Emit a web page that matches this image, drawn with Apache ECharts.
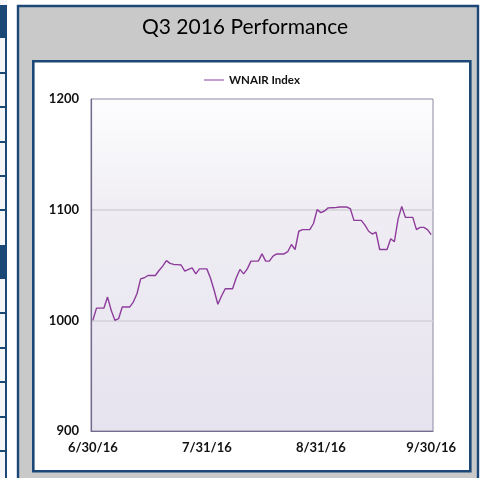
<!DOCTYPE html>
<html>
<head>
<meta charset="utf-8">
<script src="https://cdn.jsdelivr.net/npm/echarts@6/dist/echarts.min.js"></script>
<style>
    html, body { margin: 0; padding: 0; background: #fff; }
    #main { width: 482px; height: 478px; }
</style>
</head>
<body>
<div id="main"></div>
<script>
// daily index values, 6/30/16 .. 9/30/16 (weekends carry the last close)
var startDate = new Date(2016, 5, 30);
var values = [
    1000, 1011, 1011, 1011, 1021, 1009, 1000, 1001.5, 1012, 1012,
    1012, 1016.5, 1024, 1037.5, 1038.5, 1040.5, 1040.5, 1040.5, 1045, 1049,
    1054, 1051.5, 1050.5, 1050.3, 1050, 1044.5, 1046, 1047.5, 1042, 1046.5,
    1046.5, 1046.5, 1038, 1027, 1014.5, 1022, 1028.5, 1028.5, 1028.5, 1038.5,
    1046, 1042, 1046.5, 1053.5, 1053.5, 1053.5, 1060, 1053.5, 1053.5, 1058,
    1060, 1060, 1060, 1062, 1068.5, 1064, 1080.5, 1082, 1082, 1082,
    1087.5, 1100, 1097.3, 1098.8, 1101.6, 1101.7, 1101.8, 1102.4, 1102.5, 1102.4,
    1101, 1090.3, 1090.3, 1090.3, 1086, 1080.5, 1078, 1079.7, 1064, 1064,
    1064, 1073.8, 1071, 1091.5, 1103, 1093, 1093, 1093, 1082, 1084,
    1084, 1082, 1077.5
];
var tickLabels = ['6/30/16', '7/31/16', '8/31/16', '9/30/16'];
var yTicks = [900, 1000, 1100, 1200];

var navy = '#1c4877';

var days = [];
for (var i = 0; i < values.length; i++) {
    var d = new Date(startDate.getTime());
    d.setDate(startDate.getDate() + i);
    days.push((d.getMonth() + 1) + '/' + d.getDate() + '/' + String(d.getFullYear()).slice(2));
}

var myChart = echarts.init(document.getElementById('main'), null, { renderer: 'canvas' });

// decorative frame pieces around the chart
var deco = [
    { type: 'rect', shape: { x: 0, y: 0, width: 7, height: 478 }, style: { fill: '#f4f5f8' } },
    { type: 'rect', shape: { x: 0, y: 5, width: 7, height: 33 }, style: { fill: navy } },
    { type: 'rect', shape: { x: 0, y: 245, width: 7, height: 34 }, style: { fill: navy } },
    { type: 'line', shape: { x1: 6, y1: 5, x2: 6, y2: 478 }, style: { stroke: navy, lineWidth: 2 } }
];
[73, 107, 142, 176, 210, 313, 348, 382, 417, 451].forEach(function(y) {
    deco.push({ type: 'line', shape: { x1: 0, y1: y, x2: 7, y2: y }, style: { stroke: navy, lineWidth: 2 } });
});
deco.push({ type: 'rect', shape: { x: 18, y: 6, width: 460, height: 490 }, style: { fill: '#c9c9c9', stroke: navy, lineWidth: 2.4 } });
deco.push({ type: 'rect', shape: { x: 33.3, y: 61.3, width: 437, height: 410 }, style: { fill: '#fff', stroke: navy, lineWidth: 2.6 } });
deco.forEach(function(g) { g.z = -10; g.silent = true; });

var option = {
    animation: false,
    title: {
        text: 'Q3 2016 Performance',
        left: 245,
        top: 17,
        padding: 0,
        textAlign: 'center',
        textStyle: {
            color: '#000',
            fontFamily: 'Lato',
            fontWeight: 'normal',
            fontSize: 21
        }
    },
    legend: {
        left: 204,
        top: 74,
        padding: 0,
        icon: 'rect',
        itemWidth: 20,
        itemHeight: 1.5,
        itemStyle: { color: '#b07cc4' },
        textStyle: {
            color: '#111',
            fontFamily: 'Lato',
            fontWeight: 'bold',
            fontSize: 11.5
        },
        data: ['WNAIR Index']
    },
    graphic: deco,
    grid: {
        left: 91,
        top: 99,
        width: 342,
        height: 332,
        show: true,
        borderColor: '#8f88a4',
        borderWidth: 1,
        backgroundColor: {
            type: 'linear', x: 0, y: 0, x2: 0, y2: 1,
            colorStops: [
                { offset: 0, color: '#fdfdfe' },
                { offset: 0.35, color: '#efedf3' },
                { offset: 1, color: '#e6e3ef' }
            ]
        }
    },
    xAxis: {
        type: 'category',
        data: days,
        boundaryGap: true,
        axisLine: { show: true, lineStyle: { color: '#766c8e', width: 1.2 } },
        axisTick: { show: false },
        splitLine: { show: false },
        axisLabel: {
            interval: function(index, value) {
                return tickLabels.indexOf(value) >= 0;
            },
            margin: 10,
            color: '#111',
            fontFamily: 'Lato',
            fontWeight: 'bold',
            fontSize: 13,
            hideOverlap: false
        }
    },
    yAxis: {
        type: 'value',
        min: yTicks[0],
        max: yTicks[yTicks.length - 1],
        interval: 100,
        axisLine: { show: true, lineStyle: { color: '#766c8e', width: 1.2 } },
        axisTick: { show: false },
        splitLine: {
            show: true,
            showMinLine: false,
            showMaxLine: false,
            lineStyle: { color: '#d3d0d8', width: 1.5 }
        },
        axisLabel: {
            margin: 12,
            color: '#111',
            fontFamily: 'Lato',
            fontWeight: 'bold',
            fontSize: 13,
            formatter: function(v) {
                return String(v);
            }
        }
    },
    series: [{
        name: 'WNAIR Index',
        type: 'line',
        data: values,
        symbol: 'none',
        color: '#8e3c9c',
        lineStyle: { width: 1.4, color: '#8e3c9c' }
    }]
};

myChart.setOption(option);
</script>
</body>
</html>
